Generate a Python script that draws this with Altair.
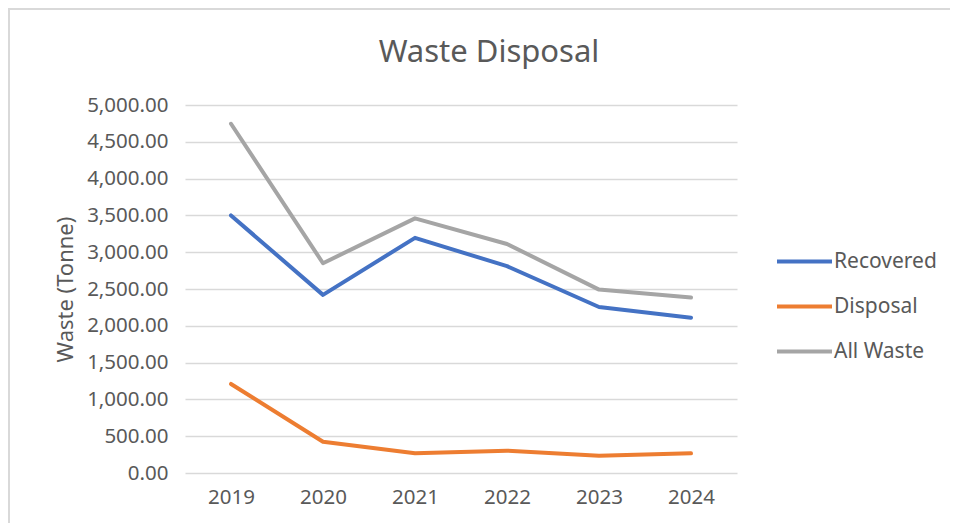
import altair as alt
import pandas as pd

years = ["2019", "2020", "2021", "2022", "2023", "2024"]
recovered = [3500, 2420, 3195, 2810, 2255, 2110]
disposal = [1210, 425, 268, 304, 236, 267]
all_waste = [4745, 2850, 3460, 3112, 2492, 2385]
series_names = ["Recovered", "Disposal", "All Waste"]
series_colors = ["#4472C4", "#ED7D31", "#A5A5A5"]
y_ticks = [0, 500, 1000, 1500, 2000, 2500, 3000, 3500, 4000, 4500, 5000]

rows = []
for name, vals in zip(series_names, [recovered, disposal, all_waste]):
    for yr, v in zip(years, vals):
        rows.append({"Year": yr, "Series": name, "Waste": v})
df = pd.DataFrame(rows)

FONT = "Noto Sans"
GREY = "#595959"

lines = alt.Chart(df).mark_line(strokeWidth=4, strokeCap="round", strokeJoin="round").encode(
    x=alt.X("Year:O", sort=years,
            scale=alt.Scale(type="point", padding=0.5),
            axis=alt.Axis(title=None, labelAngle=0, labelFontSize=20.5, labelColor=GREY,
                          labelFont=FONT, labelPadding=14, ticks=False, domain=False, grid=False)),
    y=alt.Y("Waste:Q",
            scale=alt.Scale(domain=[0, 5000], nice=False),
            axis=alt.Axis(title="Waste  (Tonne)", values=y_ticks, format=",.2f",
                          labelFontSize=20.5, labelColor=GREY, labelFont=FONT, labelPadding=17,
                          ticks=False, domain=False, gridColor="#D9D9D9", gridWidth=1.5,
                          titleFontSize=22, titleFontWeight="normal", titleColor=GREY,
                          titleFont=FONT, titlePadding=9)),
    color=alt.Color("Series:N", sort=series_names,
                    scale=alt.Scale(domain=series_names, range=series_colors),
                    legend=alt.Legend(title=None, orient="none", legendX=590, legendY=127,
                                      symbolType="stroke", symbolSize=3025, symbolStrokeWidth=4,
                                      labelFontSize=21, labelColor=GREY, labelFont=FONT,
                                      rowPadding=5, labelOffset=0)),
)

# light frame on the top and left edges of the chart area
frame_df = pd.DataFrame({"k": [0]})
frame_top = alt.Chart(frame_df).mark_rule(color="#D9D9D9", strokeWidth=2).encode(
    x=alt.value(-177), x2=alt.value(773), y=alt.value(-96))
frame_left = alt.Chart(frame_df).mark_rule(color="#D9D9D9", strokeWidth=2).encode(
    x=alt.value(-176), y=alt.value(-97), y2=alt.value(426))

chart = alt.layer(lines, frame_top, frame_left).properties(
    width=552, height=368,
    title=alt.TitleParams("Waste Disposal", fontSize=31, font=FONT, color=GREY,
                          fontWeight="normal", anchor="middle", dx=28, offset=-62),
    autosize=alt.AutoSizeParams(type="none"),
    padding={"left": 177, "top": 97, "right": 213, "bottom": 50},
).configure(background="white").configure_view(stroke=None)

chart.save("out.html", embed_options={"renderer": "svg", "actions": False})
